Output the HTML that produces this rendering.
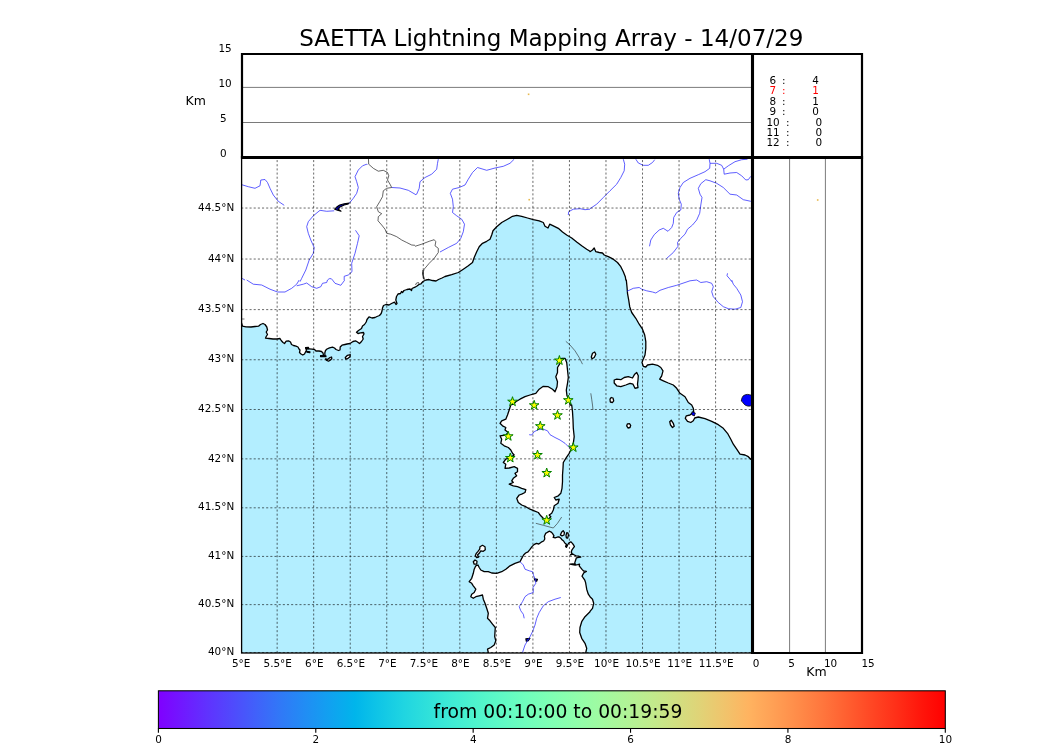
<!DOCTYPE html>
<html><head><meta charset="utf-8"><title>SAETTA Lightning Mapping Array - 14/07/29</title>
<style>html,body{margin:0;padding:0;background:#fff;overflow:hidden}svg{display:block;will-change:transform}text{font-family:"DejaVu Sans","Liberation Sans",sans-serif;fill:#000}</style></head><body>
<svg width="1050" height="750" viewBox="0 0 1050 750">
<rect x="0" y="0" width="1050" height="750" fill="#fff"/>
<defs><linearGradient id="rb" x1="0" x2="1" y1="0" y2="0"><stop offset="0.000" stop-color="#8000ff"/><stop offset="0.031" stop-color="#7019ff"/><stop offset="0.062" stop-color="#6032fe"/><stop offset="0.094" stop-color="#504afc"/><stop offset="0.125" stop-color="#4062fa"/><stop offset="0.156" stop-color="#3079f7"/><stop offset="0.188" stop-color="#208ef4"/><stop offset="0.219" stop-color="#10a2f0"/><stop offset="0.250" stop-color="#00b5eb"/><stop offset="0.281" stop-color="#10c6e6"/><stop offset="0.312" stop-color="#20d5e1"/><stop offset="0.344" stop-color="#30e1da"/><stop offset="0.375" stop-color="#40ecd4"/><stop offset="0.406" stop-color="#50f4cc"/><stop offset="0.438" stop-color="#60fac5"/><stop offset="0.469" stop-color="#70febc"/><stop offset="0.500" stop-color="#80ffb4"/><stop offset="0.531" stop-color="#90feab"/><stop offset="0.562" stop-color="#a0faa1"/><stop offset="0.594" stop-color="#b0f397"/><stop offset="0.625" stop-color="#c0eb8d"/><stop offset="0.656" stop-color="#d0e082"/><stop offset="0.688" stop-color="#e0d377"/><stop offset="0.719" stop-color="#f0c46c"/><stop offset="0.750" stop-color="#ffb360"/><stop offset="0.781" stop-color="#ffa055"/><stop offset="0.812" stop-color="#ff8c49"/><stop offset="0.844" stop-color="#ff763d"/><stop offset="0.875" stop-color="#ff5f30"/><stop offset="0.906" stop-color="#ff4724"/><stop offset="0.938" stop-color="#ff2f18"/><stop offset="0.969" stop-color="#ff160b"/><stop offset="1.000" stop-color="#ff0000"/></linearGradient>
<clipPath id="mc"><rect x="241.2" y="157.4" width="511.3" height="495.6"/></clipPath></defs>
<g clip-path="url(#mc)">
<rect x="241.2" y="157.4" width="511.3" height="495.6" fill="#b3eeff"/>
<path d="M236.0 323.0 L241.5 323.0 L242.5 326.2 L246.0 326.8 L251.0 327.0 L255.0 326.5 L258.5 326.2 L260.5 324.5 L263.0 323.5 L265.0 324.5 L266.8 327.0 L267.5 330.0 L266.2 332.0 L267.5 334.5 L266.2 336.5 L265.5 338.2 L269.0 338.5 L273.0 339.0 L277.0 339.0 L280.0 338.5 L281.2 340.5 L283.0 342.5 L284.5 343.5 L286.2 341.2 L288.5 340.8 L290.5 342.0 L291.5 344.5 L293.5 345.5 L296.0 346.2 L298.0 347.0 L299.0 349.0 L300.0 350.0 L299.5 352.5 L301.0 354.0 L302.8 355.0 L304.5 354.0 L305.5 352.0 L306.5 350.0 L305.8 348.5 L309.0 348.8 L312.0 349.2 L314.5 349.5 L316.0 351.0 L319.0 351.0 L321.5 351.5 L323.0 353.0 L323.5 355.5 L325.0 356.0 L324.8 353.0 L325.5 350.5 L327.0 349.0 L329.5 347.8 L332.5 347.2 L334.5 348.0 L336.0 349.5 L338.5 350.5 L340.0 350.0 L340.2 347.0 L342.0 345.2 L345.0 344.5 L347.0 344.0 L350.0 343.5 L353.0 341.5 L355.5 340.8 L357.5 342.0 L359.5 343.5 L361.5 341.5 L363.2 339.0 L362.5 336.5 L364.0 334.0 L363.5 332.5 L360.5 332.8 L358.0 333.5 L356.5 332.2 L358.5 330.5 L361.5 328.5 L362.5 326.0 L364.5 324.5 L366.2 322.0 L367.0 319.5 L369.0 316.8 L372.0 318.0 L375.0 317.5 L377.0 316.5 L379.5 315.5 L381.2 313.5 L382.0 311.0 L382.5 308.0 L383.5 305.5 L386.0 304.5 L389.0 305.0 L391.5 303.5 L394.5 302.2 L396.0 304.5 L397.0 303.5 L395.8 300.0 L396.5 296.5 L398.0 294.0 L400.5 293.5 L401.5 291.5 L402.5 292.5 L404.0 290.5 L407.0 289.5 L410.0 289.0 L411.5 290.5 L412.0 288.5 L415.0 287.2 L417.0 286.0 L419.0 284.5 L421.0 283.8 L423.0 281.5 L426.0 280.0 L429.0 279.5 L432.5 280.5 L436.0 281.0 L438.5 279.5 L442.0 278.0 L445.0 276.5 L451.7 274.7 L458.3 272.5 L463.3 269.2 L468.3 265.8 L472.5 262.5 L474.2 257.5 L476.7 251.7 L479.2 246.7 L482.5 243.3 L486.7 241.3 L490.0 239.2 L491.7 235.0 L493.0 230.8 L496.7 226.7 L501.7 222.5 L507.5 219.2 L512.5 216.3 L516.7 215.3 L521.7 216.3 L527.5 218.0 L533.3 219.7 L539.2 220.8 L543.3 222.5 L545.0 226.3 L548.0 228.0 L549.7 224.2 L553.3 225.8 L558.3 228.3 L562.5 232.0 L566.7 235.0 L571.7 238.0 L576.7 242.0 L581.7 245.8 L586.7 249.2 L590.0 251.3 L590.0 251.7 L592.5 250.0 L594.2 248.0 L595.8 251.7 L599.2 252.5 L602.5 253.0 L604.2 255.0 L608.3 256.7 L613.3 259.2 L617.5 262.5 L620.8 266.7 L623.3 271.7 L625.3 276.7 L625.8 280.0 L626.3 280.0 L627.0 286.7 L627.5 293.3 L628.7 300.0 L629.7 306.7 L631.7 312.5 L635.8 318.3 L639.2 324.2 L642.5 329.2 L644.7 335.0 L645.8 341.7 L645.8 348.3 L645.0 355.0 L643.0 359.7 L642.0 362.5 L643.3 366.3 L645.8 367.0 L647.5 365.0 L652.5 364.2 L657.5 365.3 L660.8 367.5 L663.0 370.8 L661.7 375.8 L659.7 379.2 L663.3 380.8 L668.3 383.0 L673.3 385.0 L676.7 388.3 L680.0 393.3 L685.0 396.7 L688.3 402.5 L691.7 405.0 L691.7 405.0 L693.3 408.3 L693.7 411.7 L690.0 415.0 L686.3 415.8 L685.3 418.3 L687.5 421.3 L690.8 422.5 L693.3 420.8 L694.7 418.0 L698.3 417.0 L705.0 418.7 L711.7 421.3 L718.3 424.7 L723.3 428.3 L727.5 433.3 L730.8 439.2 L733.3 444.2 L736.7 449.2 L740.0 454.2 L745.0 455.0 L748.3 456.7 L750.8 459.2 L756.7 463.3 L770.0 460.0 L770.0 140.0 L230.0 140.0 L230.0 326.0Z" fill="#fff" stroke="#000" stroke-width="1.3" stroke-linejoin="round"/>
<path d="M561.7 358.3 L565.0 358.3 L566.7 362.5 L567.5 370.0 L568.3 377.5 L567.5 383.3 L566.3 390.0 L567.0 395.8 L569.2 400.0 L570.0 405.0 L571.7 405.0 L572.5 411.7 L573.0 420.0 L573.3 428.3 L574.2 436.7 L573.3 443.3 L571.7 448.3 L569.2 453.3 L565.8 458.3 L563.3 462.5 L563.0 468.3 L562.5 475.0 L562.5 481.7 L562.0 488.3 L560.8 493.3 L558.3 495.8 L554.2 497.5 L555.8 500.0 L559.2 499.2 L558.0 503.3 L554.2 505.8 L553.3 510.0 L551.7 513.3 L549.2 515.0 L550.8 516.7 L548.3 519.2 L546.7 520.0 L543.3 518.3 L540.8 515.8 L538.3 512.5 L534.2 510.8 L530.0 509.2 L525.8 506.7 L521.7 505.0 L518.3 502.5 L516.7 498.3 L519.2 495.0 L521.7 494.2 L525.0 492.5 L525.8 489.7 L521.7 488.3 L517.5 486.7 L513.3 485.8 L509.2 484.2 L513.3 482.5 L511.7 480.8 L513.3 478.3 L516.7 475.8 L515.0 473.3 L517.5 471.7 L517.5 468.3 L514.2 466.7 L509.2 468.0 L505.0 468.3 L505.8 464.2 L503.3 462.5 L505.8 459.2 L510.0 457.5 L514.2 455.0 L512.5 453.3 L510.8 450.0 L508.3 447.5 L504.2 445.8 L500.8 443.3 L501.7 439.2 L500.0 435.8 L505.8 435.0 L508.3 432.5 L505.0 430.0 L505.8 427.5 L502.5 425.8 L500.0 423.3 L501.7 420.8 L505.8 419.2 L507.5 415.0 L509.2 410.0 L510.8 405.0 L513.3 404.2 L515.8 401.7 L520.0 399.2 L525.0 396.7 L530.0 395.0 L535.8 393.3 L539.2 389.2 L543.3 386.3 L548.3 386.7 L552.5 389.2 L555.0 391.7 L557.0 386.7 L557.5 381.7 L555.8 376.7 L557.5 372.5 L557.5 367.5 L560.0 363.3Z" fill="#fff" stroke="#000" stroke-width="1.3" stroke-linejoin="round"/>
<path d="M488.3 652.5 L487.5 649.2 L490.8 647.5 L494.2 645.0 L495.8 640.8 L494.7 636.7 L495.0 631.7 L495.3 627.5 L492.5 624.2 L490.0 620.8 L487.5 618.3 L488.3 613.3 L486.7 608.3 L485.0 603.3 L483.3 599.2 L482.5 595.0 L479.2 595.8 L475.8 596.7 L473.3 598.3 L470.8 596.7 L471.7 594.2 L474.2 592.5 L475.8 589.2 L473.3 585.8 L471.7 583.3 L469.2 581.7 L471.7 578.3 L473.3 573.3 L474.2 569.2 L475.8 565.8 L478.0 565.0 L479.2 567.5 L480.8 570.0 L484.2 571.7 L488.3 571.7 L491.7 573.0 L496.7 573.3 L501.7 571.7 L505.8 569.2 L510.0 565.8 L515.0 563.3 L520.0 561.7 L521.6 558.6 L523.6 555.0 L525.6 553.0 L528.0 551.8 L530.0 549.4 L532.0 546.6 L534.0 544.6 L536.4 543.4 L538.8 544.0 L541.2 542.2 L543.6 541.0 L544.8 539.0 L544.4 536.2 L545.6 533.4 L547.6 532.2 L549.6 531.2 L551.6 532.4 L552.8 533.8 L554.0 535.8 L553.2 537.4 L555.2 537.8 L557.6 537.0 L559.2 537.0 L560.8 538.2 L562.0 539.8 L563.6 541.0 L564.8 543.0 L566.4 544.2 L565.6 546.6 L566.4 547.4 L567.6 545.0 L568.8 543.0 L570.8 541.8 L572.4 543.4 L573.6 545.0 L574.4 546.6 L573.2 548.2 L572.0 549.8 L571.2 552.2 L572.0 553.4 L570.4 555.0 L572.8 554.2 L574.4 555.0 L576.0 555.8 L578.4 556.2 L580.8 557.0 L578.8 557.4 L576.4 557.8 L575.6 560.2 L574.8 562.6 L575.2 564.2 L572.8 563.8 L570.0 564.2 L572.4 564.6 L575.2 565.0 L577.6 564.6 L579.6 564.2 L579.2 565.8 L580.4 567.4 L582.0 569.4 L583.6 571.0 L586.4 571.4 L584.0 572.6 L582.8 574.6 L582.0 576.2 L583.2 577.8 L584.8 580.2 L585.6 582.6 L586.0 585.0 L586.7 589.2 L588.3 594.2 L590.0 596.7 L590.0 596.7 L592.5 599.2 L593.7 603.3 L592.5 608.3 L590.0 611.3 L590.0 611.7 L585.0 616.7 L581.7 621.7 L580.0 627.5 L579.7 632.5 L581.7 638.3 L585.0 643.3 L586.7 648.3 L585.8 652.5 L585.8 663.3 L488.3 663.3Z" fill="#fff" stroke="#000" stroke-width="1.3" stroke-linejoin="round"/>
<path d="M614.2 380.0 L616.7 379.2 L620.8 379.7 L624.2 377.5 L628.3 376.7 L632.5 378.0 L634.7 374.2 L636.7 372.5 L638.3 375.8 L638.0 380.0 L637.5 384.2 L638.0 387.5 L635.0 388.3 L633.0 384.2 L630.0 383.3 L625.8 385.0 L620.8 386.7 L616.7 385.8 L614.2 383.0Z" fill="#fff" stroke="#000" stroke-width="1.3" stroke-linejoin="round"/>
<path d="M591.3 357.0 L592.5 353.3 L594.7 352.0 L595.8 354.2 L594.2 357.5 L592.0 358.7Z" fill="#fff" stroke="#000" stroke-width="1.3" stroke-linejoin="round"/>
<path d="M610.0 399.2 L611.3 397.5 L613.0 398.0 L613.7 400.8 L612.5 402.5 L610.3 402.0Z" fill="#fff" stroke="#000" stroke-width="1.3" stroke-linejoin="round"/>
<path d="M626.7 425.8 L627.5 423.8 L629.5 423.7 L630.7 425.3 L630.0 427.5 L628.0 428.0Z" fill="#fff" stroke="#000" stroke-width="1.3" stroke-linejoin="round"/>
<path d="M669.7 421.7 L671.3 420.3 L673.3 423.3 L674.2 426.3 L672.5 427.5 L670.5 425.0Z" fill="#fff" stroke="#000" stroke-width="1.3" stroke-linejoin="round"/>
<path d="M480.0 546.7 L482.5 545.3 L485.0 546.7 L485.3 549.7 L483.3 551.3 L480.8 550.8 L479.2 553.3 L477.5 555.0 L478.7 557.0 L476.7 557.5 L475.3 555.8 L476.3 553.3 L478.0 551.3 L479.7 549.2Z" fill="#fff" stroke="#000" stroke-width="1.3" stroke-linejoin="round"/>
<path d="M473.3 561.7 L475.0 560.0 L477.0 561.3 L476.7 564.2 L474.2 564.2Z" fill="#fff" stroke="#000" stroke-width="1.3" stroke-linejoin="round"/>
<path d="M560.4 535.0 L561.6 532.2 L563.2 530.6 L564.4 532.6 L564.0 535.0 L562.0 535.8Z" fill="#fff" stroke="#000" stroke-width="1.3" stroke-linejoin="round"/>
<path d="M566.0 535.4 L566.8 532.6 L568.0 533.0 L568.4 535.4 L567.6 538.2 L566.4 537.8Z" fill="#fff" stroke="#000" stroke-width="1.3" stroke-linejoin="round"/>
<path d="M325.5 359.0 L327.5 359.5 L330.0 357.5 L331.5 357.0 L331.8 358.5 L330.5 360.0 L328.5 361.2 L326.8 360.5Z" fill="#fff" stroke="#000" stroke-width="1.3" stroke-linejoin="round"/>
<path d="M345.3 357.5 L347.5 355.3 L350.3 354.7 L350.0 356.7 L347.5 358.7 L345.8 359.2Z" fill="#fff" stroke="#000" stroke-width="1.3" stroke-linejoin="round"/>
<path d="M692.0 411.7 L695.3 413.0 L694.3 416.0 L691.7 414.7Z" fill="#0000ff" stroke="#000" stroke-width="0.8" stroke-linejoin="round"/>
<path d="M754.9 395.2 L751.1 395.2 L749.5 394.7 L747.4 394.4 L745.3 394.8 L743.4 395.7 L742.3 397.3 L741.6 399.2 L741.3 401.1 L742.6 402.1 L743.7 403.7 L745.5 405.3 L747.9 406.1 L750.1 406.1 L751.4 405.3 L754.9 405.3Z" fill="#0000ff" stroke="#000" stroke-width="0.8" stroke-linejoin="round"/>
<path d="M349.2 203.0 L344.2 203.7 L339.7 205.0 L336.7 207.0 L334.7 209.2 L337.5 210.3 L341.0 211.3 L338.3 209.3 L340.0 207.0 L344.2 205.0 L348.3 204.0Z" fill="#0000c0" stroke="#000" stroke-width="1.1" stroke-linejoin="round"/>
<path d="M534.2 578.7 L537.5 579.3 L536.7 581.3 L535.3 581.0Z" fill="#0000c0" stroke="#000" stroke-width="1.1" stroke-linejoin="round"/>
<path d="M525.8 638.7 L530.0 638.3 L528.3 640.7 L526.3 641.3Z" fill="#0000c0" stroke="#000" stroke-width="1.1" stroke-linejoin="round"/>
<path d="M305.5 347.6 L308.5 347.4 L308.8 348.6 L306.0 348.8Z" fill="#0000c0" stroke="#000" stroke-width="1.1" stroke-linejoin="round"/>
<path d="M306.5 351.2 L310.0 351.8 L309.8 352.8 L306.8 352.2Z" fill="#0000c0" stroke="#000" stroke-width="1.1" stroke-linejoin="round"/>
<path d="M320.5 355.6 L326.0 355.8 L326.0 356.8 L320.5 356.6Z" fill="#0000c0" stroke="#000" stroke-width="1.1" stroke-linejoin="round"/>
<path d="M240.0 184.2 L241.7 184.7 L248.3 186.7 L255.0 188.3 L260.0 185.8 L260.8 180.0 L265.0 179.5 L267.5 182.5 L270.0 188.3 L273.3 195.0 L278.3 201.3 L284.2 205.3" fill="none" stroke="#2a2aff" stroke-width="0.75" stroke-linejoin="round"/>
<path d="M367.5 165.0 L366.7 164.2 L362.5 165.8 L358.3 170.0 L355.0 176.7 L356.7 181.7 L358.3 187.5 L356.7 193.3 L353.3 198.3 L349.2 203.3" fill="none" stroke="#2a2aff" stroke-width="0.75" stroke-linejoin="round"/>
<path d="M334.2 210.8 L326.7 211.3 L320.0 210.3 L313.3 215.8 L308.3 221.7 L306.7 226.7 L308.3 233.3 L310.8 240.0 L314.2 247.5 L313.3 253.3 L309.2 260.0 L305.8 270.0 L301.7 278.3 L300.0 281.7" fill="none" stroke="#2a2aff" stroke-width="0.75" stroke-linejoin="round"/>
<path d="M355.5 230.3 L359.2 235.8 L357.5 243.3 L355.0 253.3 L351.7 263.3 L352.0 271.7 L348.3 275.0 L344.2 276.3 L344.2 280.0" fill="none" stroke="#2a2aff" stroke-width="0.75" stroke-linejoin="round"/>
<path d="M391.7 187.5 L400.0 188.0 L408.3 190.3 L415.0 194.2" fill="none" stroke="#2a2aff" stroke-width="0.75" stroke-linejoin="round"/>
<path d="M240.0 275.8 L242.5 278.7 L245.0 280.0" fill="none" stroke="#2a2aff" stroke-width="0.75" stroke-linejoin="round"/>
<path d="M438.3 159.2 L437.5 163.3 L436.7 169.2 L431.7 174.2 L425.0 177.5 L420.0 181.7 L419.2 188.3 L416.7 194.2 L415.0 194.7" fill="none" stroke="#2a2aff" stroke-width="0.75" stroke-linejoin="round"/>
<path d="M514.2 159.2 L510.0 163.3 L503.3 166.3 L495.0 168.0 L486.7 170.3 L477.5 167.5 L472.5 172.5 L468.3 179.2 L465.0 185.0 L459.2 187.5 L452.5 189.2 L450.3 193.3 L452.5 199.2 L453.3 206.7 L452.5 212.5 L456.7 215.8 L461.7 219.2 L464.5 224.2 L463.3 231.7 L460.8 238.3 L456.7 243.3 L448.3 247.5 L440.0 252.0" fill="none" stroke="#2a2aff" stroke-width="0.75" stroke-linejoin="round"/>
<path d="M568.3 215.0 L568.7 211.7 L573.3 209.2 L580.0 208.7 L585.0 209.7 L590.0 209.2" fill="none" stroke="#2a2aff" stroke-width="0.75" stroke-linejoin="round"/>
<path d="M623.3 159.2 L624.7 164.2 L624.2 170.8 L620.8 177.5 L616.7 184.2 L610.0 190.8 L603.3 197.5 L596.7 204.2 L590.0 208.7" fill="none" stroke="#2a2aff" stroke-width="0.75" stroke-linejoin="round"/>
<path d="M635.8 159.2 L638.3 163.0 L643.3 165.3 L648.3 165.3 L652.5 162.5 L654.7 159.7" fill="none" stroke="#2a2aff" stroke-width="0.75" stroke-linejoin="round"/>
<path d="M709.2 159.2 L710.0 163.3 L709.7 168.3 L705.0 171.7 L698.3 174.7 L690.0 178.3 L683.3 182.5 L680.0 187.5 L678.3 193.3 L679.2 199.2 L681.3 204.2 L680.8 210.0 L676.7 212.5 L673.7 217.5 L673.3 223.3 L671.7 227.5 L668.0 231.3 L663.3 228.3 L659.2 230.0 L654.2 234.7 L650.8 240.0 L649.5 246.3" fill="none" stroke="#2a2aff" stroke-width="0.75" stroke-linejoin="round"/>
<path d="M710.0 163.3 L716.7 163.3 L721.7 165.3 L723.7 169.2 L728.3 165.8 L735.0 161.7 L741.7 159.7 L747.5 159.2" fill="none" stroke="#2a2aff" stroke-width="0.75" stroke-linejoin="round"/>
<path d="M723.7 169.2 L724.2 174.2 L730.0 173.0 L736.7 172.5 L741.7 175.8 L745.8 180.0 L748.3 179.7 L750.8 176.3" fill="none" stroke="#2a2aff" stroke-width="0.75" stroke-linejoin="round"/>
<path d="M750.8 201.3 L743.3 199.7 L736.7 195.0 L730.0 194.2 L723.3 187.5 L716.7 183.3 L710.0 180.8 L705.8 179.7 L700.8 183.7 L698.3 188.3 L700.0 194.2 L702.0 197.5 L700.8 205.0 L699.7 213.3 L696.7 220.0 L692.5 225.0 L687.5 229.2 L685.0 234.2 L680.8 238.3 L677.5 242.5 L678.0 246.3 L673.3 252.5 L666.3 258.7" fill="none" stroke="#2a2aff" stroke-width="0.75" stroke-linejoin="round"/>
<path d="M727.5 273.3 L727.0 275.8 L730.0 279.2 L731.7 281.7" fill="none" stroke="#2a2aff" stroke-width="0.75" stroke-linejoin="round"/>
<path d="M246.7 280.0 L253.3 284.2 L261.7 285.0 L270.0 289.2 L277.5 292.0 L285.0 292.0 L291.7 288.3 L296.7 284.2 L299.2 280.0" fill="none" stroke="#2a2aff" stroke-width="0.75" stroke-linejoin="round"/>
<path d="M296.7 285.8 L303.3 284.2 L306.7 283.0 L311.7 286.7 L316.7 288.3 L320.8 286.7 L322.5 283.3 L326.7 282.5 L327.5 280.0" fill="none" stroke="#2a2aff" stroke-width="0.75" stroke-linejoin="round"/>
<path d="M327.5 280.0 L329.2 278.7 L331.3 278.7 L332.5 280.0 L335.0 283.3 L340.8 285.3 L344.2 280.8 L344.7 280.0" fill="none" stroke="#2a2aff" stroke-width="0.75" stroke-linejoin="round"/>
<path d="M627.0 291.3 L633.3 288.3 L639.2 287.5 L641.7 289.2 L646.7 290.8 L652.5 292.0 L655.8 293.0 L660.0 290.3 L668.3 287.5 L676.7 285.3 L685.0 282.5 L690.0 280.8 L696.7 280.0 L700.8 282.5 L706.7 281.7 L711.7 283.3 L713.3 286.7 L711.7 291.7 L713.3 296.7 L718.3 302.5 L723.3 306.7 L728.3 308.7 L735.0 309.2 L740.8 307.5 L742.5 301.7 L740.8 295.0 L736.7 288.3 L733.3 284.2 L731.7 280.0" fill="none" stroke="#2a2aff" stroke-width="0.75" stroke-linejoin="round"/>
<path d="M529.2 434.7 L531.7 435.0 L534.2 431.7 L538.3 429.7 L543.3 429.2 L547.5 430.8 L550.0 434.7 L555.0 437.5 L560.0 440.0 L565.0 443.3 L569.2 447.5 L571.7 448.7" fill="none" stroke="#2a2aff" stroke-width="0.75" stroke-linejoin="round"/>
<path d="M520.0 561.7 L523.3 565.0 L525.0 569.2 L529.2 570.8 L532.5 571.7 L533.7 575.8 L535.3 579.2 L535.8 583.3 L533.0 587.5 L533.3 592.5 L528.3 594.2 L525.0 596.7 L522.5 601.7 L519.2 606.7 L520.8 610.8 L523.3 614.2 L524.2 618.3" fill="none" stroke="#2a2aff" stroke-width="0.75" stroke-linejoin="round"/>
<path d="M560.8 597.5 L555.0 599.2 L548.3 601.7 L543.3 605.8 L539.2 612.5 L536.7 618.3 L535.0 625.0 L532.5 631.7 L530.0 636.7 L525.0 645.0 L522.5 652.5 L521.7 656.7" fill="none" stroke="#2a2aff" stroke-width="0.75" stroke-linejoin="round"/>
<path d="M368.3 155.0 L368.7 164.2 L373.3 168.3 L378.3 171.2 L383.3 170.3 L387.5 172.5 L388.8 175.8 L387.5 180.0 L390.0 184.2 L391.7 187.5 L386.7 188.3 L383.3 190.8 L382.5 196.7 L379.7 201.7 L376.7 206.7 L378.3 211.7 L381.7 213.7 L378.3 216.7 L378.0 220.8 L381.7 225.0 L385.0 229.2 L386.7 233.3 L390.8 234.2 L396.7 236.7 L401.7 240.0 L406.7 242.5 L411.7 245.0 L415.0 245.3" fill="none" stroke="#222" stroke-width="0.7" stroke-linejoin="round"/>
<path d="M415.0 246.3 L421.7 244.2 L429.2 241.3 L434.2 239.7 L435.8 241.7 L435.0 245.8 L438.3 248.3 L438.3 252.5 L434.2 258.3 L429.2 263.3 L424.2 269.2 L422.5 274.2 L423.7 279.2 L423.0 270.0 L422.5 273.0 L423.5 276.0 L424.5 279.0 L425.0 280.0" fill="none" stroke="#222" stroke-width="0.7" stroke-linejoin="round"/>
<path d="M415.5 285.0 L416.5 283.0 L418.5 282.5 L419.0 284.0" fill="none" stroke="#222" stroke-width="0.7" stroke-linejoin="round"/>
<path d="M565.8 341.3 L570.0 345.0 L575.0 350.8 L579.2 357.5 L582.5 364.2" fill="none" stroke="#222" stroke-width="0.6"/>
<path d="M590.8 393.3 L591.7 399.2 L592.5 405.0 L592.5 405.0 L593.0 410.0" fill="none" stroke="#222" stroke-width="0.6"/>
<path d="M535.8 523.3 L543.3 525.3 L553.3 528.0 L557.5 523.3 L561.7 517.0" fill="none" stroke="#222" stroke-width="0.6"/>
<path d="M241.0 319.0 L244.5 319.0" fill="none" stroke="#222" stroke-width="0.6"/>
<path d="M277.15 653.0 V157.4 M313.68 653.0 V157.4 M350.22 653.0 V157.4 M386.76 653.0 V157.4 M423.29 653.0 V157.4 M459.83 653.0 V157.4 M496.37 653.0 V157.4 M532.91 653.0 V157.4 M569.44 653.0 V157.4 M605.98 653.0 V157.4 M642.52 653.0 V157.4 M679.05 653.0 V157.4 M715.59 653.0 V157.4 M241.2 652.49 H752.5 M241.2 604.63 H752.5 M241.2 556.41 H752.5 M241.2 507.82 H752.5 M241.2 458.86 H752.5 M241.2 409.51 H752.5 M241.2 359.76 H752.5 M241.2 309.61 H752.5 M241.2 259.04 H752.5 M241.2 208.04 H752.5" fill="none" stroke="#000" stroke-width="0.85" stroke-opacity="0.7" stroke-dasharray="2.08 2.08"/>
<rect x="528.4" y="198.9" width="1.6" height="1.6" fill="#e8b94e"/>
<path d="M559.4 355.5 L560.5 359.0 L564.2 359.0 L561.2 361.1 L562.3 364.5 L559.4 362.4 L556.5 364.5 L557.6 361.1 L554.6 359.0 L558.3 359.0Z" fill="#ffff00" stroke="#008000" stroke-width="1.0" stroke-linejoin="miter"/>
<path d="M512.5 396.7 L513.6 400.2 L517.3 400.2 L514.3 402.3 L515.4 405.7 L512.5 403.6 L509.6 405.7 L510.7 402.3 L507.7 400.2 L511.4 400.2Z" fill="#ffff00" stroke="#008000" stroke-width="1.0" stroke-linejoin="miter"/>
<path d="M534.2 400.3 L535.3 403.8 L539.0 403.8 L536.0 405.9 L537.1 409.3 L534.2 407.2 L531.3 409.3 L532.4 405.9 L529.4 403.8 L533.1 403.8Z" fill="#ffff00" stroke="#008000" stroke-width="1.0" stroke-linejoin="miter"/>
<path d="M568.3 395.2 L569.4 398.7 L573.1 398.7 L570.1 400.8 L571.2 404.2 L568.3 402.1 L565.4 404.2 L566.5 400.8 L563.5 398.7 L567.2 398.7Z" fill="#ffff00" stroke="#008000" stroke-width="1.0" stroke-linejoin="miter"/>
<path d="M557.5 410.3 L558.6 413.8 L562.3 413.8 L559.3 415.9 L560.4 419.3 L557.5 417.2 L554.6 419.3 L555.7 415.9 L552.7 413.8 L556.4 413.8Z" fill="#ffff00" stroke="#008000" stroke-width="1.0" stroke-linejoin="miter"/>
<path d="M540.3 421.2 L541.4 424.7 L545.1 424.7 L542.1 426.8 L543.2 430.2 L540.3 428.1 L537.4 430.2 L538.5 426.8 L535.5 424.7 L539.2 424.7Z" fill="#ffff00" stroke="#008000" stroke-width="1.0" stroke-linejoin="miter"/>
<path d="M508.3 431.3 L509.4 434.8 L513.1 434.8 L510.1 436.9 L511.2 440.3 L508.3 438.2 L505.4 440.3 L506.5 436.9 L503.5 434.8 L507.2 434.8Z" fill="#ffff00" stroke="#008000" stroke-width="1.0" stroke-linejoin="miter"/>
<path d="M573.3 442.5 L574.4 446.0 L578.1 446.0 L575.1 448.1 L576.2 451.5 L573.3 449.4 L570.4 451.5 L571.5 448.1 L568.5 446.0 L572.2 446.0Z" fill="#ffff00" stroke="#008000" stroke-width="1.0" stroke-linejoin="miter"/>
<path d="M537.5 450.0 L538.6 453.5 L542.3 453.5 L539.3 455.6 L540.4 459.0 L537.5 456.9 L534.6 459.0 L535.7 455.6 L532.7 453.5 L536.4 453.5Z" fill="#ffff00" stroke="#008000" stroke-width="1.0" stroke-linejoin="miter"/>
<path d="M510.3 453.0 L511.4 456.5 L515.1 456.5 L512.1 458.6 L513.2 462.0 L510.3 459.9 L507.4 462.0 L508.5 458.6 L505.5 456.5 L509.2 456.5Z" fill="#ffff00" stroke="#008000" stroke-width="1.0" stroke-linejoin="miter"/>
<path d="M546.7 468.0 L547.8 471.5 L551.5 471.5 L548.5 473.6 L549.6 477.0 L546.7 474.9 L543.8 477.0 L544.9 473.6 L541.9 471.5 L545.6 471.5Z" fill="#ffff00" stroke="#008000" stroke-width="1.0" stroke-linejoin="miter"/>
<path d="M546.7 515.3 L547.8 518.8 L551.5 518.8 L548.5 520.9 L549.6 524.3 L546.7 522.2 L543.8 524.3 L544.9 520.9 L541.9 518.8 L545.6 518.8Z" fill="#ffff00" stroke="#008000" stroke-width="1.0" stroke-linejoin="miter"/>
</g>
<rect x="241.6" y="157.4" width="510.9" height="495.6" fill="none" stroke="#000" stroke-width="1.3"/>
<path d="M242 87.4 H752 M242 122.5 H752" stroke="#000" stroke-width="0.7" stroke-opacity="0.75" fill="none"/>
<path d="M789.6 158 V653 M825.4 158 V653" stroke="#000" stroke-width="0.7" stroke-opacity="0.75" fill="none"/>
<rect x="527.8" y="93.5" width="1.6" height="1.6" fill="#e8b94e"/>
<rect x="816.9" y="199.2" width="1.6" height="1.6" fill="#e8b94e"/>
<path d="M242 157.4 V54 H862 V653 H752.5" fill="none" stroke="#000" stroke-width="2.2" stroke-linejoin="miter"/>
<path d="M752.5 53 V654.1" fill="none" stroke="#000" stroke-width="3.1"/>
<path d="M240.9 157.4 H863.1" fill="none" stroke="#000" stroke-width="3"/>
<text x="551.3" y="45.7" font-size="23.05" text-anchor="middle">SAETTA Lightning Mapping Array - 14/07/29</text>
<text x="218.4" y="52.3" font-size="10.42">15</text>
<text x="218.4" y="87.3" font-size="10.42">10</text>
<text x="220.1" y="122.4" font-size="10.42">5</text>
<text x="220.1" y="157.2" font-size="10.42">0</text>
<text x="185.6" y="104.8" font-size="12.5">Km</text>
<text x="234.2" y="655.1" font-size="10.42" text-anchor="end">40°N</text>
<text x="234.2" y="607.2" font-size="10.42" text-anchor="end">40.5°N</text>
<text x="234.2" y="559.0" font-size="10.42" text-anchor="end">41°N</text>
<text x="234.2" y="510.4" font-size="10.42" text-anchor="end">41.5°N</text>
<text x="234.2" y="461.5" font-size="10.42" text-anchor="end">42°N</text>
<text x="234.2" y="412.1" font-size="10.42" text-anchor="end">42.5°N</text>
<text x="234.2" y="362.4" font-size="10.42" text-anchor="end">43°N</text>
<text x="234.2" y="312.2" font-size="10.42" text-anchor="end">43.5°N</text>
<text x="234.2" y="261.6" font-size="10.42" text-anchor="end">44°N</text>
<text x="234.2" y="210.6" font-size="10.42" text-anchor="end">44.5°N</text>
<text x="241.2" y="667" font-size="10.42" text-anchor="middle">5°E</text>
<text x="277.7" y="667" font-size="10.42" text-anchor="middle">5.5°E</text>
<text x="314.3" y="667" font-size="10.42" text-anchor="middle">6°E</text>
<text x="350.8" y="667" font-size="10.42" text-anchor="middle">6.5°E</text>
<text x="387.4" y="667" font-size="10.42" text-anchor="middle">7°E</text>
<text x="423.9" y="667" font-size="10.42" text-anchor="middle">7.5°E</text>
<text x="460.4" y="667" font-size="10.42" text-anchor="middle">8°E</text>
<text x="497.0" y="667" font-size="10.42" text-anchor="middle">8.5°E</text>
<text x="533.5" y="667" font-size="10.42" text-anchor="middle">9°E</text>
<text x="570.0" y="667" font-size="10.42" text-anchor="middle">9.5°E</text>
<text x="606.6" y="667" font-size="10.42" text-anchor="middle">10°E</text>
<text x="643.1" y="667" font-size="10.42" text-anchor="middle">10.5°E</text>
<text x="679.7" y="667" font-size="10.42" text-anchor="middle">11°E</text>
<text x="716.2" y="667" font-size="10.42" text-anchor="middle">11.5°E</text>
<text x="756.0" y="667" font-size="10.42" text-anchor="middle">0</text>
<text x="791.5" y="667" font-size="10.42" text-anchor="middle">5</text>
<text x="830.5" y="667" font-size="10.42" text-anchor="middle">10</text>
<text x="868.0" y="667" font-size="10.42" text-anchor="middle">15</text>
<text x="816.5" y="675.5" font-size="12.5" text-anchor="middle">Km</text>
<text y="84.0" font-size="10.42"><tspan x="769.6">6</tspan><tspan x="782.1">:</tspan><tspan x="812.3">4</tspan></text>
<text y="94.0" font-size="10.42" style="fill:#ff0000"><tspan x="769.6">7</tspan><tspan x="782.1">:</tspan><tspan x="812.3">1</tspan></text>
<text y="105.0" font-size="10.42"><tspan x="769.6">8</tspan><tspan x="782.1">:</tspan><tspan x="812.3">1</tspan></text>
<text y="115.0" font-size="10.42"><tspan x="769.6">9</tspan><tspan x="782.1">:</tspan><tspan x="812.3">0</tspan></text>
<text y="126.0" font-size="10.42"><tspan x="766.5">10</tspan><tspan x="785.9">:</tspan><tspan x="815.6">0</tspan></text>
<text y="136.0" font-size="10.42"><tspan x="766.5">11</tspan><tspan x="785.9">:</tspan><tspan x="815.6">0</tspan></text>
<text y="146.0" font-size="10.42"><tspan x="766.5">12</tspan><tspan x="785.9">:</tspan><tspan x="815.6">0</tspan></text>
<rect x="158.4" y="690.8" width="786.9" height="37.7" fill="url(#rb)" stroke="#000" stroke-width="1.05"/>
<text x="158.5" y="742.8" font-size="10.42" text-anchor="middle">0</text>
<text x="315.9" y="742.8" font-size="10.42" text-anchor="middle">2</text>
<text x="473.3" y="742.8" font-size="10.42" text-anchor="middle">4</text>
<text x="630.6" y="742.8" font-size="10.42" text-anchor="middle">6</text>
<text x="788.0" y="742.8" font-size="10.42" text-anchor="middle">8</text>
<text x="945.4" y="742.8" font-size="10.42" text-anchor="middle">10</text>
<path d="M158.40 728.5 V732.7 M315.78 728.5 V732.7 M473.16 728.5 V732.7 M630.54 728.5 V732.7 M787.92 728.5 V732.7 M945.30 728.5 V732.7" stroke="#000" stroke-width="1.1" fill="none"/>
<text x="558" y="718.3" font-size="18.75" text-anchor="middle">from 00:10:00 to 00:19:59</text>
</svg></body></html>
